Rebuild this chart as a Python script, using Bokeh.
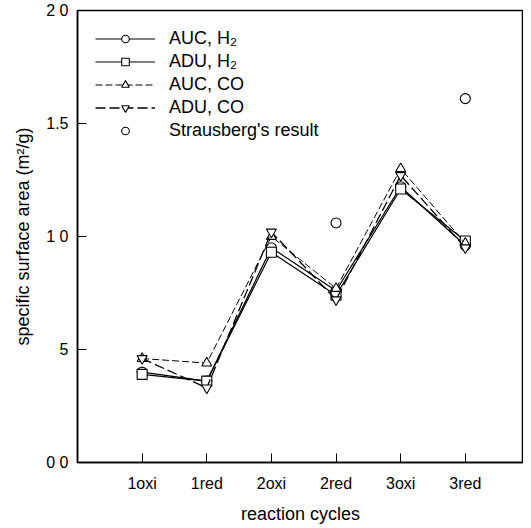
from bokeh.plotting import figure
from bokeh.models import Legend, LegendItem, FixedTicker, Range1d
from bokeh.embed import file_html
from bokeh.resources import INLINE

cycles = ["1oxi", "1red", "2oxi", "2red", "3oxi", "3red"]
auc_h2 = [0.40, 0.36, 0.95, 0.76, 1.22, 0.96]
adu_h2 = [0.39, 0.36, 0.93, 0.74, 1.21, 0.98]
auc_co = [0.46, 0.44, 1.00, 0.77, 1.30, 0.97]
adu_co = [0.46, 0.33, 1.02, 0.72, 1.27, 0.95]
straus_cycles = ["2red", "3red"]
straus_vals = [1.06, 1.61]
y_ticks = [0.0, 0.5, 1.0, 1.5, 2.0]
y_tick_labels = ["0 0", "5", "1 0", "1.5", "2 0"]

xs = list(range(1, len(cycles) + 1))
sx = [cycles.index(c) + 1 for c in straus_cycles]

FONT = "Liberation Sans"

p = figure(width=523, height=526, output_backend="svg", toolbar_location=None,
           x_range=Range1d(0, 6.9), y_range=Range1d(0, 2.0),
           min_border_left=77, min_border_top=10, min_border_bottom=60, min_border_right=0)
p.background_fill_color = "white"
p.border_fill_color = "white"
p.outline_line_color = "black"
p.outline_line_width = 1.5
p.grid.visible = False

for ax in (p.xaxis[0], p.yaxis[0]):
    ax.axis_line_width = 1.5
    ax.axis_line_color = "black"
    ax.major_tick_in = 9
    ax.major_tick_out = 0
    ax.minor_tick_in = 0
    ax.minor_tick_out = 0
    ax.major_tick_line_color = "black"
    ax.major_label_text_font = FONT
    ax.major_label_text_font_size = "16px"
    ax.major_label_text_color = "black"
    ax.axis_label_text_font = FONT
    ax.axis_label_text_font_size = "18px"
    ax.axis_label_text_font_style = "normal"
    ax.axis_label_text_color = "black"

p.xaxis.ticker = FixedTicker(ticks=xs)
p.xaxis.major_label_overrides = {x: c for x, c in zip(xs, cycles)}
p.xaxis.axis_label = "reaction cycles"
p.xaxis.major_label_standoff = 12
p.xaxis.axis_label_standoff = 9

p.yaxis.ticker = FixedTicker(ticks=y_ticks)
p.yaxis.major_label_overrides = {t: l for t, l in zip(y_ticks, y_tick_labels)}
p.yaxis.axis_label = "specific surface area (m²/g)"
p.yaxis.major_label_standoff = 9
p.yaxis.axis_label_standoff = 10

MS = 10
l1 = p.line(xs, auc_h2, line_color="black", line_width=1.2)
m1 = p.scatter(xs, auc_h2, marker="circle", size=MS, fill_color="white", line_color="black", line_width=1.1)
l2 = p.line(xs, adu_h2, line_color="black", line_width=1.2)
m2 = p.scatter(xs, adu_h2, marker="square", size=MS, fill_color="white", line_color="black", line_width=1.1)
l3 = p.line(xs, auc_co, line_color="black", line_width=1.0, line_dash="7 3")
m3 = p.scatter(xs, auc_co, marker="triangle", size=MS, fill_color="white", line_color="black", line_width=1.1)
l4 = p.line(xs, adu_co, line_color="black", line_width=1.3, line_dash="10 4")
m4 = p.scatter(xs, adu_co, marker="inverted_triangle", size=MS, fill_color="white", line_color="black", line_width=1.1)
m5 = p.scatter(sx, straus_vals, marker="circle", size=MS, fill_color="white", line_color="black", line_width=1.1)

legend = Legend(items=[
    LegendItem(label="AUC, H₂", renderers=[l1, m1]),
    LegendItem(label="ADU, H₂", renderers=[l2, m2]),
    LegendItem(label="AUC, CO", renderers=[l3, m3]),
    LegendItem(label="ADU, CO", renderers=[l4, m4]),
    LegendItem(label="Strausberg's result", renderers=[m5]),
], location="top_left")
legend.border_line_color = None
legend.background_fill_alpha = 0
legend.margin = 18
legend.padding = 6
legend.spacing = 2
legend.glyph_width = 60
legend.glyph_height = 19
legend.label_height = 19
legend.label_standoff = 14
legend.label_text_font = FONT
legend.label_text_font_size = "18px"
legend.label_text_color = "black"
p.add_layout(legend)

open("out.html", "w").write(file_html(p, INLINE))
